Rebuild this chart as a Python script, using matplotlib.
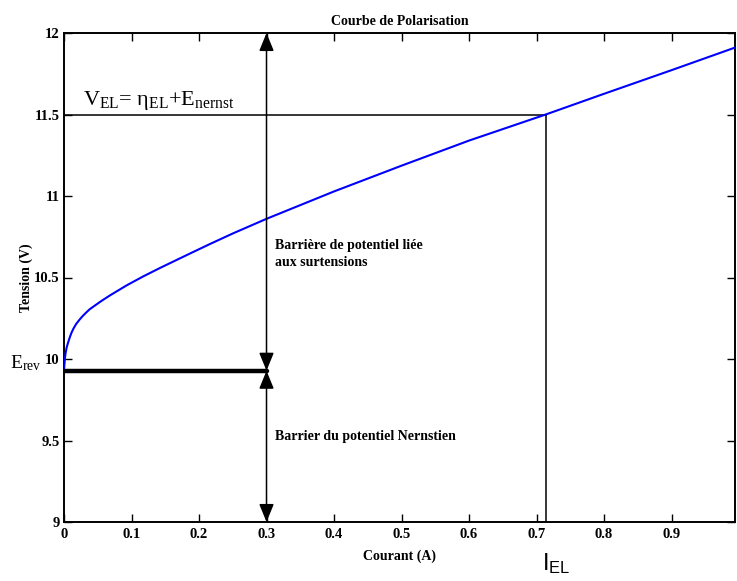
import matplotlib
matplotlib.use("Agg")
import matplotlib.pyplot as plt

# Data
current = [0, 0.0005, 0.001, 0.0015, 0.0025, 0.004, 0.006, 0.0089, 0.011, 0.0138,
           0.018, 0.0237, 0.028, 0.0336, 0.038, 0.0434, 0.055, 0.068, 0.0929, 0.1175,
           0.142, 0.167, 0.1916, 0.216, 0.25, 0.3, 0.4, 0.5, 0.6, 0.7136,
           0.8, 0.9, 0.995]
voltage = [9.93, 9.96, 9.985, 10.01, 10.04, 10.072, 10.10, 10.137, 10.16, 10.185,
           10.215, 10.245, 10.265, 10.288, 10.305, 10.321, 10.355, 10.39, 10.452, 10.507,
           10.558, 10.608, 10.657, 10.705, 10.77, 10.86, 11.028, 11.186, 11.34, 11.5,
           11.627, 11.772, 11.912]
E_rev = 9.928
I_EL = 0.7136
V_EL = 11.5
arrow_x = 0.3
x_ticks = [0, 0.1, 0.2, 0.3, 0.4, 0.5, 0.6, 0.7, 0.8, 0.9]
x_tick_labels = ["0", "0.1", "0.2", "0.3", "0.4", "0.5", "0.6", "0.7", "0.8", "0.9"]
y_ticks = [9, 9.5, 10, 10.5, 11, 11.5, 12]
y_tick_labels = ["9", "9.5", "10", "10.5", "11", "11.5", "12"]

plt.rcParams['font.family'] = ['Liberation Serif', 'DejaVu Serif']
plt.rcParams['mathtext.fontset'] = 'custom'
plt.rcParams['mathtext.rm'] = 'Liberation Serif'
plt.rcParams['mathtext.it'] = 'Liberation Serif:italic'
plt.rcParams['mathtext.bf'] = 'Liberation Serif:bold'

fig = plt.figure(figsize=(7.37, 5.81), dpi=100)
ax = fig.add_axes([64/737, 1-522/581, (735-64)/737, (522-33)/581])

ax.plot(current, voltage, color='#0000ff', lw=1.5, zorder=3)

# reference lines
ax.plot([0, I_EL], [V_EL, V_EL], color='black', lw=1.1)
ax.plot([I_EL, I_EL], [V_EL, 9.0], color='black', lw=1.1)
ax.plot([0, arrow_x], [E_rev, E_rev], color='black', lw=3.2, solid_capstyle='round', zorder=4)

arrowstyle = '<|-|>,head_length=1.1,head_width=0.45'
ax.annotate('', xy=(arrow_x, 12), xytext=(arrow_x, E_rev),
            arrowprops=dict(arrowstyle=arrowstyle, color='black', lw=1.1,
                            shrinkA=0, shrinkB=0, mutation_scale=10))
ax.annotate('', xy=(arrow_x, E_rev), xytext=(arrow_x, 9.0),
            arrowprops=dict(arrowstyle=arrowstyle, color='black', lw=1.1,
                            shrinkA=0, shrinkB=0, mutation_scale=10))

ax.set_xlim(0, 0.994)
ax.set_ylim(9, 12)
ax.set_xticks(x_ticks)
ax.set_xticklabels(x_tick_labels)
ax.set_yticks(y_ticks)
ax.set_yticklabels(y_tick_labels)
ax.tick_params(direction='in', length=6, width=1.0, top=True, right=True,
               labelsize=10.5)
ax.tick_params(axis='x', pad=4.5)
ax.tick_params(axis='y', pad=3)
for lbl in ax.get_xticklabels() + ax.get_yticklabels():
    lbl.set_fontweight('bold')
for s in ax.spines.values():
    s.set_linewidth(1.4)

ax.set_title('Courbe de Polarisation', fontsize=10, fontweight='bold', pad=6)
ax.set_xlabel('Courant (A)', fontsize=10, fontweight='bold', labelpad=6)
ax.set_ylabel('Tension (V)', fontsize=10, fontweight='bold', labelpad=1)

ax.text(0.028, 11.558, r'V$_{\mathrm{EL}}$= η$_{\mathrm{EL}}$+E$_{\mathrm{nernst}}$',
        fontsize=16, ha='left', va='baseline')
ax.text(-0.08, 9.94, r'E$_{\mathrm{rev}}$', fontsize=14, ha='left', va='baseline',
        clip_on=False)
ax.text(0.708, 8.706, r'$\mathregular{I_{EL}}$', fontsize=17, ha='left', va='baseline',
        family=['Liberation Sans', 'DejaVu Sans'], clip_on=False)

ax.text(0.3126, 10.645, 'Barrière de potentiel liée\naux surtensions', fontsize=10,
        fontweight='bold', ha='left', va='center', linespacing=1.35)
ax.text(0.3126, 9.525, 'Barrier du potentiel Nernstien', fontsize=10,
        fontweight='bold', ha='left', va='center')

fig.savefig('out.png', dpi=100)
